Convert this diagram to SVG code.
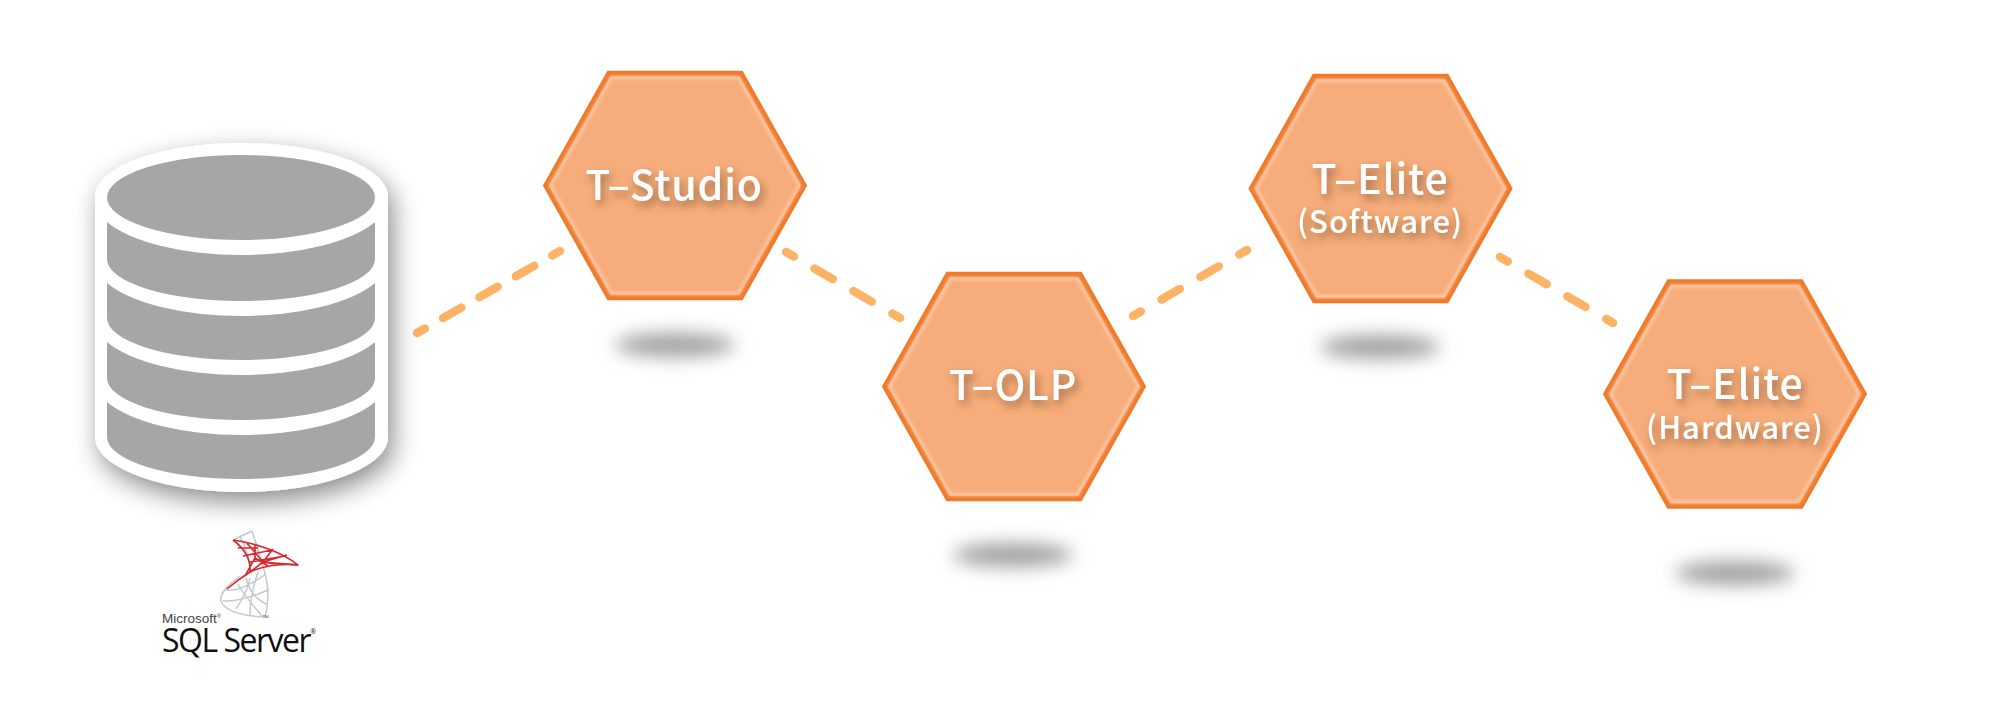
<svg xmlns="http://www.w3.org/2000/svg" width="2000" height="707" viewBox="0 0 2000 707">
<defs>
<filter id="blur" x="-50%" y="-150%" width="200%" height="400%"><feGaussianBlur stdDeviation="9"/></filter>
<filter id="soft" x="-10%" y="-10%" width="120%" height="120%"><feGaussianBlur stdDeviation="1.600"/></filter>
<filter id="cylshadow" x="-25%" y="-25%" width="150%" height="150%"><feDropShadow dx="5" dy="10" stdDeviation="13" flood-color="#000" flood-opacity=".45"/></filter>
<filter id="txt" x="-20%" y="-40%" width="140%" height="190%"><feDropShadow dx="3" dy="5" stdDeviation="4.500" flood-color="#5a3a20" flood-opacity=".6"/></filter>
<polygon id="hex" points="-129,0 -66,-112 66,-112 129,0 66,112 -66,112"/>
<polygon id="hexin" points="-124.500,0 -63.500,-108 63.500,-108 124.500,0 63.500,108 -63.500,108"/>
</defs>
<style>
.hexa{fill:#f7ad7b;stroke:#f07a2a;stroke-width:5.500}
.inner{fill:none;stroke:#fbc9a9;stroke-width:3;filter:url(#soft)}
.shad{fill:#a0a0a0;filter:url(#blur)}
.lab{fill:#fff;font-family:"Noto Sans CJK KR","Noto Sans",sans-serif;font-weight:500;text-anchor:middle;filter:url(#txt)}
.big{font-size:41px;letter-spacing:.8px}
.small{font-size:31px;letter-spacing:1px}
.dash{fill:none;stroke:#fdb366;stroke-width:8.500;stroke-linecap:round}
.d3{stroke-dasharray:9 21 21 21 21 21 21 21 9}
.d2{stroke-dasharray:9 24 21 24 21 24 9}
.gray{fill:#a6a6a6}
.lr{fill:none;stroke:#d8282c;stroke-width:1.600;stroke-linejoin:round}
.lg{fill:none;stroke:#c4c9cf;stroke-width:1.500;stroke-linejoin:round}
</style>
<rect width="2000" height="707" fill="#fff"/>
<g id="connectors">
<line class="dash d3" x1="417" y1="333" x2="560" y2="251"/>
<line class="dash d2" x1="786" y1="252" x2="900" y2="318"/>
<line class="dash d2" x1="1133" y1="316" x2="1247" y2="250"/>
<line class="dash d2" x1="1500" y1="257" x2="1613" y2="323"/>
</g>
<g id="database">
<path filter="url(#cylshadow)" fill="#fff" d="M95 197C95 167 160 143 241.500 143S388 167 388 197V437C388 467 323 492 241.500 492S95 467 95 437Z"/>
<ellipse class="gray" cx="241" cy="197.500" rx="134" ry="42.500"/>
<path class="gray" d="M107 222A147 56 0 0 0 375 222V259A134 42 0 0 1 107 259Z"/>
<path class="gray" d="M107 283A147 56 0 0 0 375 283V318A134 42 0 0 1 107 318Z"/>
<path class="gray" d="M107 342A147 56 0 0 0 375 342V378A134 42 0 0 1 107 378Z"/>
<path class="gray" d="M107 402A147 56 0 0 0 375 402V437A134 42 0 0 1 107 437Z"/>
</g>
<g id="sql-server-logo">
<path class="lg" stroke-width="2" d="M233 540L252 531C258 550 266 570 268 590C268 600 267 610 265 617C245 616 225 612 221 601C219 592 232 582 240 576"/>
<path class="lg" d="M240 536C246 548 250 560 250 570M258 552L240 540M226 590C238 592 252 584 266 574M223 601C238 602 254 596 268 590M236 609C242 600 248 590 250 578M250 615C250 604 252 590 258 572M262 616C254 606 244 596 238 584M266 604C258 600 250 594 246 578"/>
<path class="lr" stroke-width="2.200" d="M233 540C255 543 282 552 298 565C282 563 262 566 250 572C242 577 234 583 227 589"/>
<path class="lr" d="M233 540C245 549 251 560 250 572M247 543L263 562L250 572M255 545L255 558L245 576M273 549L263 562L298 565M287 555L263 562L275 564M238 548L258 548M243 556L272 550M250 562L285 556M263 562L258 566M255 558L268 566"/>
<text x="162" y="623" font-family="Liberation Sans,sans-serif" font-size="13.500" fill="#444">Microsoft<tspan font-size="6" dy="-5">®</tspan></text>
<text x="262" y="620" font-family="Liberation Sans,sans-serif" font-size="7" fill="#666">™</text>
<text x="162" y="652" font-family="Open Sans,sans-serif" font-size="32" fill="#111" textLength="154">SQL Server<tspan font-size="7" dy="-18">®</tspan></text>
</g>
<g id="t-studio">
<ellipse class="shad" cx="675" cy="345" rx="60" ry="12"/>
<use href="#hex" class="hexa" x="675" y="185.500"/>
<use href="#hexin" class="inner" x="675" y="185.500"/>
<text class="lab big" x="674" y="200">T–Studio</text>
</g>
<g id="t-olp">
<ellipse class="shad" cx="1013" cy="555" rx="60" ry="12"/>
<use href="#hex" class="hexa" x="1014" y="386.500"/>
<use href="#hexin" class="inner" x="1014" y="386.500"/>
<text class="lab big" x="1013" y="400">T–OLP</text>
</g>
<g id="t-elite-software">
<ellipse class="shad" cx="1380" cy="347" rx="60" ry="12"/>
<use href="#hex" class="hexa" x="1380.500" y="188.500"/>
<use href="#hexin" class="inner" x="1380.500" y="188.500"/>
<text class="lab big" x="1380" y="194">T–Elite</text>
<text class="lab small" x="1380" y="233">(Software)</text>
</g>
<g id="t-elite-hardware">
<ellipse class="shad" cx="1735" cy="573" rx="60" ry="12"/>
<use href="#hex" class="hexa" x="1735" y="394"/>
<use href="#hexin" class="inner" x="1735" y="394"/>
<text class="lab big" x="1735" y="399">T–Elite</text>
<text class="lab small" x="1735" y="439">(Hardware)</text>
</g>
</svg>
